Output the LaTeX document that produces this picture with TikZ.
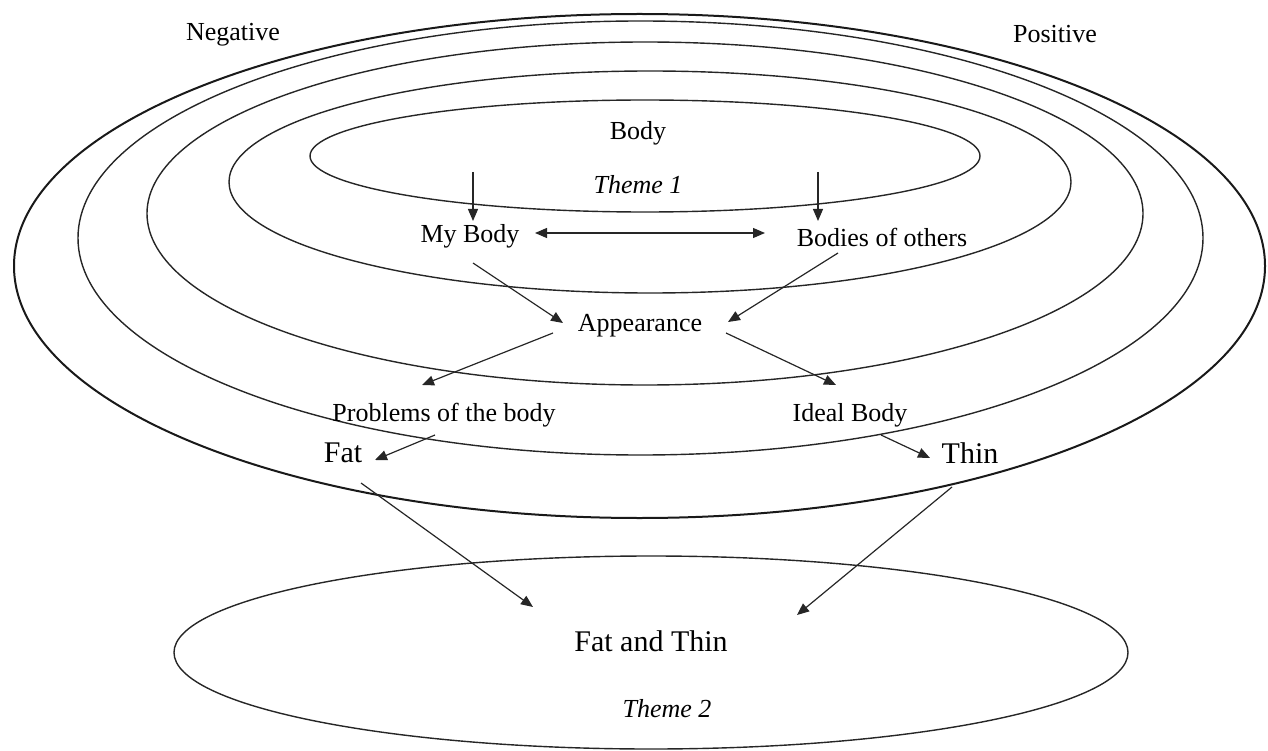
\documentclass[tikz,border=0pt]{standalone}
\usepackage{fontspec}
\setmainfont{Liberation Serif}
\usetikzlibrary{arrows.meta,calc}
\begin{document}
\begin{tikzpicture}[x=1pt,y=-1pt,
  ring/.style={draw=black!85,line width=1.4pt},
  outerring/.style={draw=black!90,line width=2pt},
  lbl/.style={inner sep=0pt,font=\fontsize{26}{30}\selectfont},
  big/.style={inner sep=0pt,font=\fontsize{30}{34}\selectfont},
  theme/.style={inner sep=0pt,font=\fontsize{26}{30}\selectfont\itshape},
  tip/.tip={Triangle[length=12pt,width=10pt]},
  arr/.style={draw=black!85,line width=1.2pt,-tip},
  dblarr/.style={draw=black!85,line width=1.2pt,tip-tip}]
\useasboundingbox (0,0) rectangle (1268,751);

% nested rings of Theme 1
\draw[outerring] (639.5,266) ellipse [x radius=625.5, y radius=252];
\draw[ring] (640.5,238) ellipse [x radius=562.5, y radius=217];
\draw[ring] (645,213.5) ellipse [x radius=498, y radius=171.5];
\draw[ring] (650,182) ellipse [x radius=421, y radius=111];
\draw[ring] (645,156) ellipse [x radius=335, y radius=56];
\coordinate (core) at (645,156);

% Theme 2 ellipse
\draw[ring] (651,652.5) ellipse [x radius=477, y radius=96.5];

% labels
\node[lbl]   (neg)      at (233,35)  {Negative};
\node[lbl]   (pos)      at (1055,34) {Positive};
\node[lbl]   (body)     at (638,133) {Body};
\node[theme] (th1)      at (638,185) {Theme 1};
\node[lbl]   (mybody)   at (470,236) {My Body};
\node[lbl]   (others)   at (882,237) {Bodies of others};
\node[lbl]   (appear)   at (640,326) {Appearance};
\node[lbl]   (problems) at (444,415) {Problems of the body};
\node[lbl]   (ideal)    at (850,415) {Ideal Body};
\node[big]   (fat)      at (343,453) {Fat};
\node[big]   (thin)     at (970,453) {Thin};
\node[big]   (fatthin)  at (651,641) {Fat and Thin};
\node[theme] (th2)      at (667,709) {Theme 2};

% connectors
\draw[arr] ($(core)+(-172,16)$) -- ($(mybody)+(3,-15)$);
\draw[arr] ($(core)+(173,16)$) -- ($(others)+(-64,-16)$);
\draw[dblarr] ($(mybody)+(65,-3)$) -- ($(others)+(-117,-4)$);
\draw[arr] ($(mybody)+(3,27)$) -- ($(appear)+(-77,-3)$);
\draw[arr] ($(others)+(-44,16)$) -- ($(appear)+(88,-4)$);
\draw[arr] ($(appear)+(-87,7)$) -- ($(problems)+(-22,-30)$);
\draw[arr] ($(appear)+(86,7)$) -- ($(ideal)+(-14,-30)$);
\draw[arr] ($(problems)+(-9,20)$) -- ($(fat)+(32,7)$);
\draw[arr] ($(ideal)+(31,20)$) -- ($(thin)+(-40,5)$);
\draw[arr] ($(fat)+(18,30)$) -- ($(fatthin)+(-118,-34)$);
\draw[arr] ($(thin)+(-18,34)$) -- ($(fatthin)+(146,-26)$);
\end{tikzpicture}
\end{document}
